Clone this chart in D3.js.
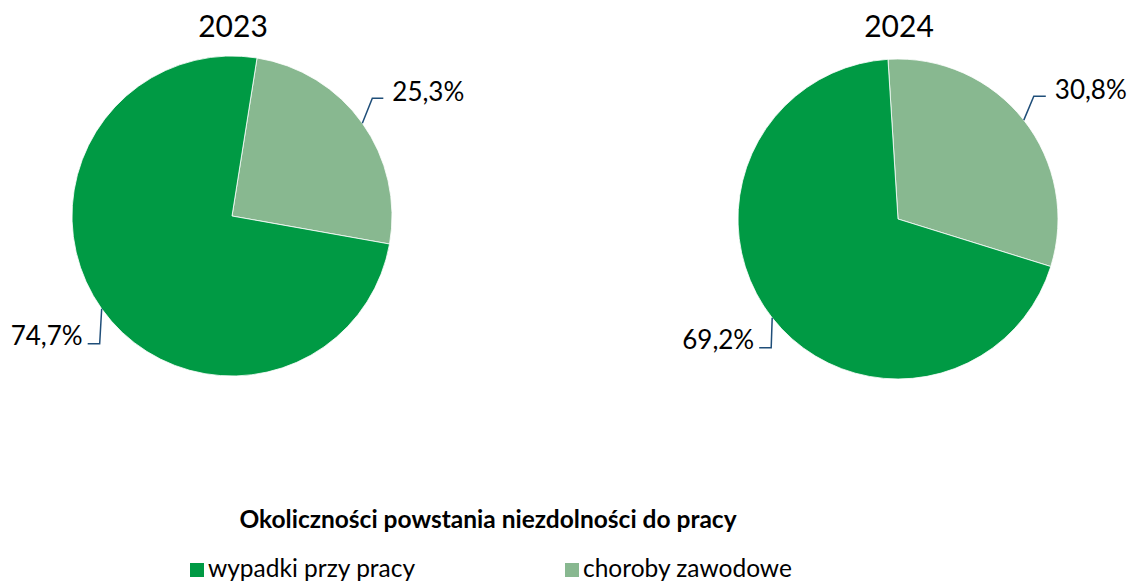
<!DOCTYPE html>
<html>
<head>
<meta charset="utf-8">
<script src="https://cdn.jsdelivr.net/npm/d3@7"></script>
<style>
  body { margin: 0; background: #fff; }
  svg { display: block; font-family: Lato, "Open Sans", sans-serif; }
</style>
</head>
<body>
<svg id="chart" width="1133" height="583"></svg>
<script>
// data
var years = ["2023", "2024"];
var categories = ["choroby zawodowe", "wypadki przy pracy"];
var values2023 = [25.3, 74.7];
var values2024 = [30.8, 69.2];
var legendTitle = "Okoliczności powstania niezdolności do pracy";
var legendOrder = ["wypadki przy pracy", "choroby zawodowe"];

var colors = d3.scaleOrdinal()
    .domain(["wypadki przy pracy", "choroby zawodowe"])
    .range(["#009a44", "#88b890"]);

var svg = d3.select("#chart");
var r = 160;

// layout per pie: centre, rotation, leader offsets
var pies = [
  {year: years[0], values: values2023, cx: 232, cy: 216, start: 9, titleY: 25,
   leaders: [{dx: 10, dy: -25, len: 11}, {dx: -2, dy: 35, len: -12}]},
  {year: years[1], values: values2024, cx: 898, cy: 219, start: -3.6, titleY: 25,
   leaders: [{dx: 10, dy: -24, len: 12}, {dx: -1, dy: 30, len: -12}]}
];

var fmt = function(v){ return d3.format(".1f")(v).replace(".", ",") + "%"; };
var rad = Math.PI / 180;

pies.forEach(function(p){
    var data = categories.map(function(c, i){ return {cat: c, value: p.values[i]}; });
    var pie = d3.pie().sort(null).value(function(d){ return d.value; })
        .startAngle(p.start * rad).endAngle(p.start * rad + 2 * Math.PI);
    var arcs = pie(data);
    var arc = d3.arc().innerRadius(0).outerRadius(r);

    var g = svg.append("g").attr("transform", "translate(" + p.cx + "," + p.cy + ")");
    g.selectAll("path.slice").data(arcs).enter().append("path")
        .attr("class", "slice")
        .attr("d", arc)
        .attr("fill", function(d){ return colors(d.data.cat); })
        .attr("stroke", "#fff")
        .attr("stroke-width", 0.8);

    svg.append("text")
        .attr("x", p.cx + 1)
        .attr("y", p.titleY)
        .attr("text-anchor", "middle")
        .attr("dominant-baseline", "central")
        .attr("font-size", 30)
        .attr("fill", "#000")
        .text(p.year);

    // leader lines + labels
    arcs.forEach(function(a, i){
        var mid = (a.startAngle + a.endAngle) / 2;
        var x0 = Math.sin(mid) * r, y0 = -Math.cos(mid) * r;
        var L = p.leaders[i];
        var x1 = x0 + L.dx, y1 = y0 + L.dy;
        var x2 = x1 + L.len;
        g.append("polyline")
            .attr("points", [[x0, y0], [x1, y1], [x2, y1]].map(function(q){ return q.join(","); }).join(" "))
            .attr("fill", "none")
            .attr("stroke", "#1f4e79")
            .attr("stroke-width", 1.5);
        var right = L.len > 0;
        g.append("text")
            .attr("x", right ? x2 + 9 : x2 - 5)
            .attr("y", right ? y1 - 7 : y1 - 9)
            .attr("text-anchor", right ? "start" : "end")
            .attr("dominant-baseline", "central")
            .attr("font-size", 26)
            .attr("fill", "#000")
            .text(fmt(a.data.value));
    });
});

// legend
svg.append("text")
    .attr("x", 488)
    .attr("y", 518)
    .attr("text-anchor", "middle")
    .attr("dominant-baseline", "central")
    .attr("font-size", 24.5)
    .attr("font-weight", "bold")
    .text(legendTitle);

var legendX = d3.scalePoint().domain(legendOrder).range([190, 565]);
var items = svg.selectAll("g.legend").data(legendOrder).enter().append("g")
    .attr("class", "legend")
    .attr("transform", function(d){ return "translate(" + legendX(d) + ",569)"; });
items.append("rect")
    .attr("x", 0).attr("y", -6)
    .attr("width", 14).attr("height", 14)
    .attr("fill", function(d){ return colors(d); });
items.append("text")
    .attr("x", 18)
    .attr("y", -2)
    .attr("dominant-baseline", "central")
    .attr("font-size", 24.5)
    .text(function(d){ return d; });
</script>
</body>
</html>
